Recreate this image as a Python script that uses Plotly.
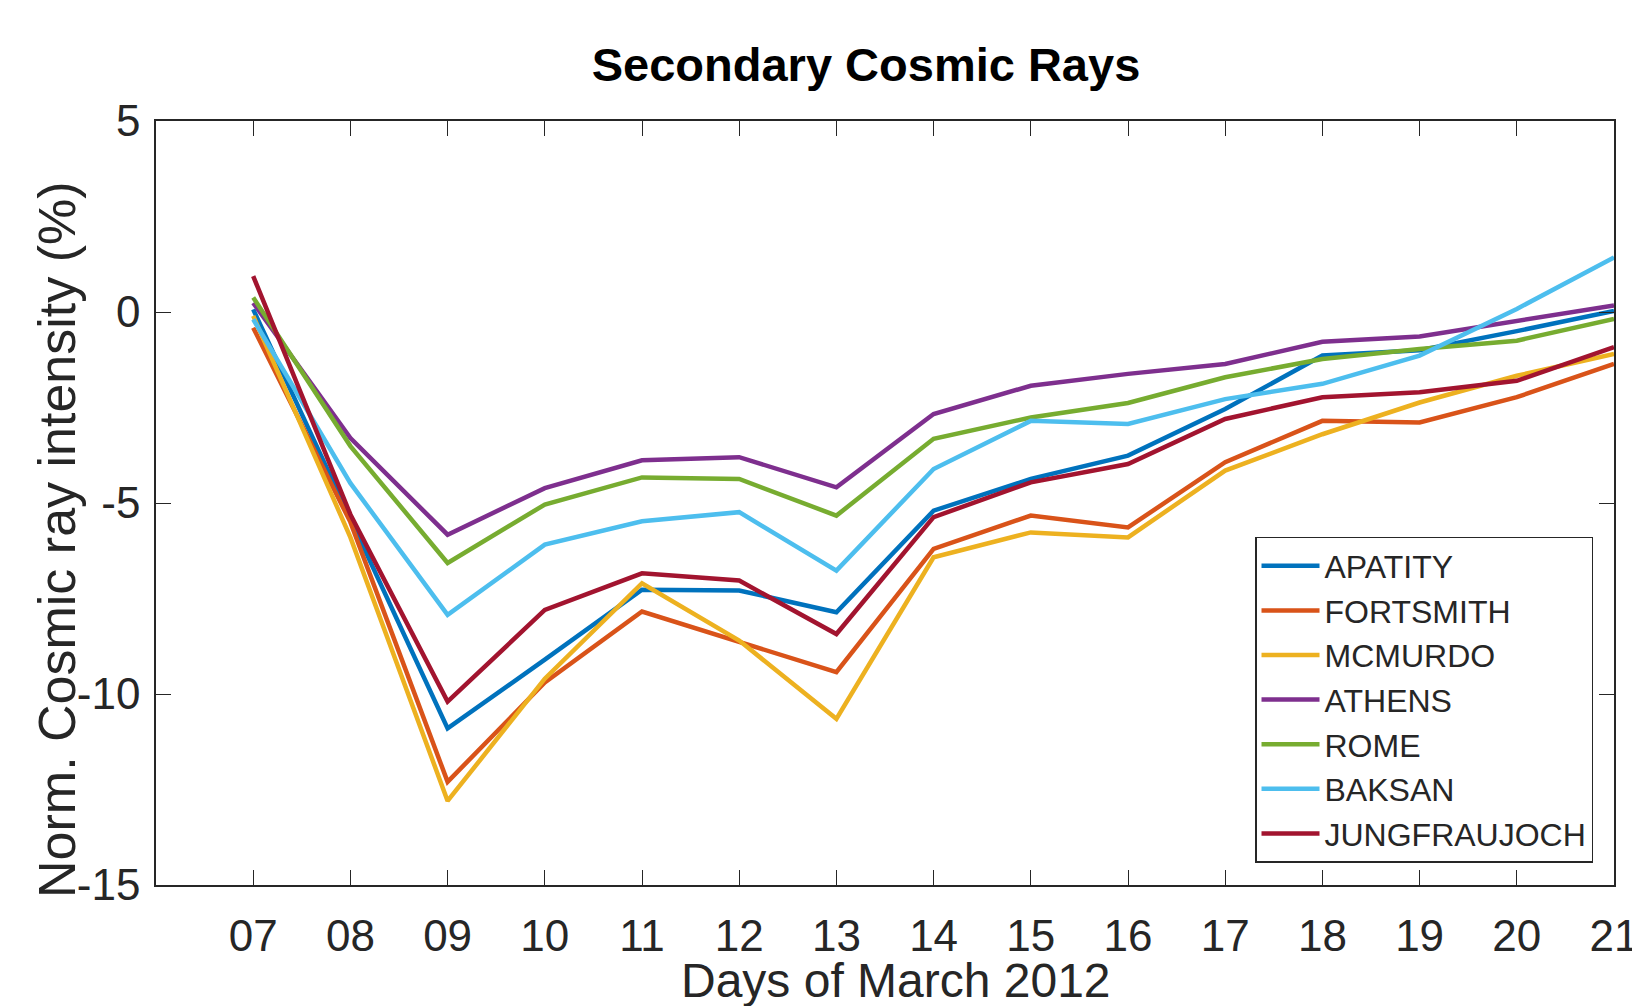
import plotly.graph_objects as go

days = [7, 8, 9, 10, 11, 12, 13, 14, 15, 16, 17, 18, 19, 20, 21]
day_labels = ["07", "08", "09", "10", "11", "12", "13", "14", "15", "16", "17", "18", "19", "20", "21"]

apatity = [0.07, -5.4, -10.9, -9.1, -7.27, -7.29, -7.86, -5.2, -4.37, -3.76, -2.54, -1.14, -1.0, -0.5, 0.03]
fortsmith = [-0.41, -5.5, -12.3, -9.7, -7.84, -8.65, -9.43, -6.2, -5.33, -5.64, -3.93, -2.85, -2.89, -2.23, -1.36]
mcmurdo = [-0.1, -5.9, -12.8, -9.6, -7.1, -8.6, -10.65, -6.42, -5.77, -5.9, -4.15, -3.2, -2.37, -1.67, -1.1]
athens = [0.24, -3.3, -5.83, -4.61, -3.88, -3.8, -4.59, -2.67, -1.93, -1.62, -1.36, -0.78, -0.64, -0.23, 0.17]
rome = [0.38, -3.51, -6.57, -5.04, -4.33, -4.37, -5.33, -3.32, -2.76, -2.38, -1.71, -1.23, -0.97, -0.75, -0.18]
baksan = [-0.19, -4.48, -7.93, -6.09, -5.48, -5.24, -6.77, -4.11, -2.85, -2.93, -2.28, -1.88, -1.14, 0.08, 1.43]
jungfraujoch = [0.94, -5.3, -10.2, -7.8, -6.84, -7.03, -8.43, -5.37, -4.46, -3.98, -2.80, -2.23, -2.1, -1.80, -0.92]

series = [
    ("APATITY", apatity, "#0072BD"),
    ("FORTSMITH", fortsmith, "#D95319"),
    ("MCMURDO", mcmurdo, "#EDB120"),
    ("ATHENS", athens, "#7E2F8E"),
    ("ROME", rome, "#77AC30"),
    ("BAKSAN", baksan, "#4DBEEE"),
    ("JUNGFRAUJOCH", jungfraujoch, "#A2142F"),
]

FONT = "Liberation Sans, Arial, sans-serif"

fig = go.Figure()
for name, vals, col in series:
    fig.add_trace(go.Scatter(x=days, y=vals, mode="lines", name=name,
                             line=dict(color=col, width=4.5)))

fig.update_layout(
    width=1632, height=1006,
    margin=dict(l=156, r=18, t=121, b=121),
    paper_bgcolor="white", plot_bgcolor="white",
    font=dict(family=FONT, color="#262626"),
    title=dict(text="<b>Secondary Cosmic Rays</b>", x=866 / 1632, xanchor="center",
               y=1 - 65 / 1006, yanchor="middle",
               font=dict(family=FONT, size=47, color="black")),
    showlegend=True,
    legend=dict(x=0.9856, y=0.0288, xanchor="right", yanchor="bottom",
                bgcolor="white", bordercolor="#262626", borderwidth=1.5,
                font=dict(family=FONT, size=32, color="#262626"),
                itemwidth=58, tracegroupgap=0),
    annotations=[
        dict(text="Days of March 2012", xref="paper", yref="paper",
             x=0.5075, y=-0.1245, xanchor="center", yanchor="middle",
             showarrow=False, font=dict(family=FONT, size=48, color="#262626")),
        dict(text="Norm. Cosmic ray intensity (%)", xref="paper", yref="paper",
             x=-0.0679, y=0.4516, xanchor="center", yanchor="middle", textangle=-90,
             showarrow=False, font=dict(family=FONT, size=52, color="#262626")),
    ],
)

fig.update_xaxes(
    range=[6, 21], tickmode="array", tickvals=days, ticktext=day_labels,
    ticks="inside", ticklen=15, tickwidth=1, tickcolor="#262626",
    showline=True, linecolor="#262626", linewidth=1.5, mirror="ticks",
    showgrid=False, zeroline=False,
    tickfont=dict(family=FONT, size=44, color="#262626"),
    ticklabelstandoff=11, ticklabeloverflow="allow",
    automargin=False,
)
fig.update_yaxes(
    range=[-15, 5], tickmode="array", tickvals=[-15, -10, -5, 0, 5],
    ticktext=["-15", "-10", "-5", "0", "5"],
    ticks="inside", ticklen=15, tickwidth=1, tickcolor="#262626",
    showline=True, linecolor="#262626", linewidth=1.5, mirror="ticks",
    showgrid=False, zeroline=False,
    tickfont=dict(family=FONT, size=44, color="#262626"),
    ticklabelstandoff=5, ticklabeloverflow="allow",
    automargin=False,
)

fig.write_html("out.html", config={"displayModeBar": False},
               post_script="document.body.style.margin='0';document.body.style.overflow='hidden';")
